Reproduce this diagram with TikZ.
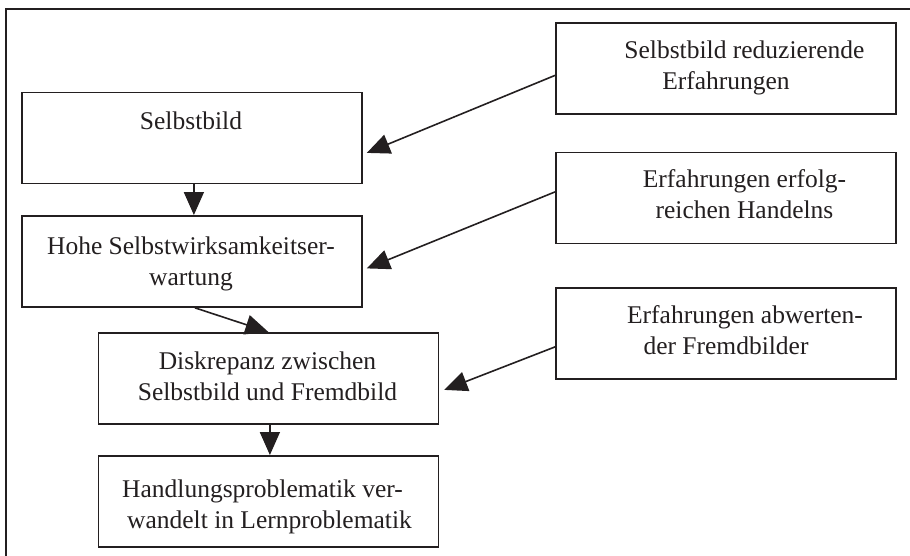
\documentclass[tikz,border=0pt]{standalone}
\usepackage{fontspec}
\setmainfont{Liberation Serif}
\usetikzlibrary{arrows.meta}
\definecolor{ink}{RGB}{35,31,32}
\tikzset{
  box/.style={draw=ink, line width=1.8pt, minimum width=340pt, minimum height=91pt, anchor=north west, inner sep=0pt},
  txt/.style={anchor=north, inner sep=0pt, align=center, text=ink, font=\fontsize{25.5}{31}\selectfont},
  arr/.style={draw=ink, line width=1.6pt, -{Triangle[length=23pt, width=20pt]}},
  frame/.style={draw=ink, line width=2.5pt}
}
\begin{document}
\begin{tikzpicture}[x=1pt, y=-1pt]
\useasboundingbox (0,0) rectangle (910,555);
% frame (left and top edges)
\coordinate (fb) at (6,560);
\coordinate (fc) at (6,9);
\coordinate (fr) at (915,9);
\draw[frame] (fb) -- (fc) -- (fr);

% left column boxes
\node[box] (l1) at (21,91.5) {};
\node[box] (l2) at (21,215) {};
\node[box] (l3) at (97.5,332) {};
\node[box] (l4) at (97.5,455) {};
% right column boxes
\node[box] (r1) at (555,22) {};
\node[box] (r2) at (555,151.5) {};
\node[box] (r3) at (555,287) {};

% texts
\node[txt] (t1) at (191,112) {Selbstbild};
\node[txt] (t2) at (191,236.5) {Hohe Selbstwirksamkeitser-\\wartung};
\node[txt] (t3) at (267.5,351.5) {Diskrepanz zwischen\\Selbstbild und Fremdbild};
\node[txt] (t4) at (269.5,479.5) {Handlungsproblematik ver-\kern14pt\\wandelt in Lernproblematik};
\node[txt] (t5) at (744.5,40.5) {Selbstbild reduzierende\\Erfahrungen\kern37pt};
\node[txt] (t6) at (744.5,169.5) {Erfahrungen erfolg-\\reichen Handelns};
\node[txt] (t7) at (745,305.5) {Erfahrungen abwerten-\\der Fremdbilder\kern38pt};

% connectors
\draw[arr] ([xshift=2pt]l1.south) -- ([xshift=2pt]l2.north);
\draw[arr] ([xshift=3pt]l2.south) -- (l3.north);
\draw[arr] ([xshift=1.5pt]l3.south) -- ([xshift=1.5pt]l4.north);
\draw[arr] ([yshift=-7pt]r1.west) -- ([xshift=4pt,yshift=-15pt]l1.east);
\draw[arr] ([yshift=6pt]r2.west) -- ([xshift=4pt,yshift=-7pt]l2.east);
\draw[arr] ([yshift=-13.5pt]r3.west) -- ([xshift=5pt,yshift=-11.5pt]l3.east);
\end{tikzpicture}
\end{document}
